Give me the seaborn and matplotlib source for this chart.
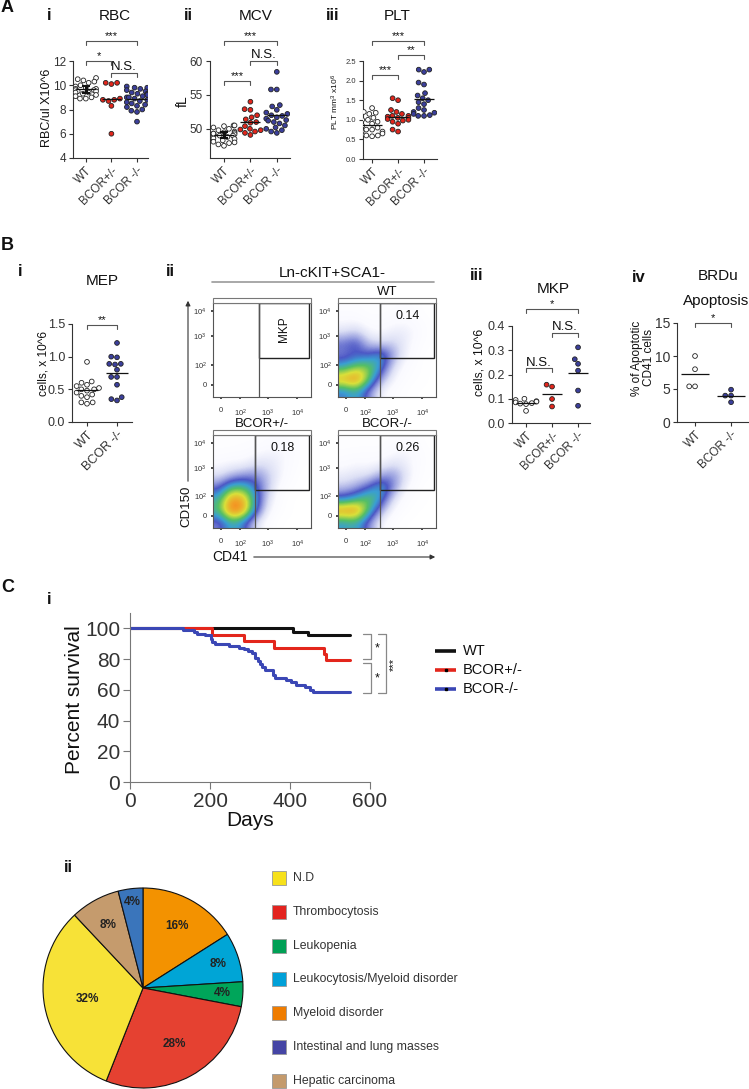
import warnings
warnings.filterwarnings('ignore')
import numpy as np
import pandas as pd
import matplotlib
matplotlib.use('Agg')
import matplotlib.pyplot as plt
import seaborn as sns
from matplotlib.colors import LinearSegmentedColormap
from matplotlib.patches import Rectangle

# ---------------- data ----------------
groups3 = ['WT', 'BCOR+/-', 'BCOR -/-']
groups2 = ['WT', 'BCOR -/-']
group_colors = {'WT': '#ffffff', 'BCOR+/-': '#e3261c', 'BCOR -/-': '#3b3f9c'}

rbc_wt = [10.6, 10.5, 10.4, 10.3, 10.2, 10.0, 9.9, 9.8, 9.7, 9.7, 9.6, 9.6, 9.5, 9.5, 9.4, 9.4, 9.3, 9.2, 9.1, 9.0, 8.9, 8.9]
rbc_het = [10.2, 10.1, 10.2, 8.9, 8.8, 8.8, 8.7, 8.3, 6.0]
rbc_ko = [9.9, 9.8, 9.8, 9.7, 9.6, 9.5, 9.4, 9.3, 9.3, 9.2, 9.1, 9.0, 9.0, 8.9, 8.8, 8.7, 8.6, 8.5, 8.4, 8.3, 8.2, 8.0, 7.9, 7.8, 7.0]

mcv_wt = [50.5, 50.5, 50.4, 50.2, 50.0, 49.8, 49.6, 49.5, 49.4, 49.3, 49.2, 49.1, 49.0, 49.0, 48.8, 48.6, 48.5, 48.3, 48.1, 48.0, 47.9, 47.7, 47.5, 49.3]
mcv_het = [54.0, 52.9, 52.8, 52.0, 51.7, 51.4, 51.0, 50.9, 50.4, 50.0, 49.9, 49.8, 49.6, 49.4, 49.1]
mcv_ko = [58.4, 55.8, 55.8, 53.5, 53.3, 52.8, 52.4, 52.2, 52.0, 51.9, 51.7, 51.5, 51.3, 51.2, 51.0, 50.8, 50.5, 50.2, 50.0, 49.8, 49.6, 49.4]

plt_wt = [1.30, 1.20, 1.18, 1.15, 1.05, 1.00, 1.00, 0.95, 0.90, 0.85, 0.80, 0.75, 0.75, 0.70, 0.70, 0.65, 0.62, 0.60, 0.60, 0.58]
plt_het = [1.55, 1.50, 1.25, 1.20, 1.15, 1.10, 1.10, 1.08, 1.05, 1.05, 1.02, 1.00, 0.98, 0.95, 0.90, 0.75, 0.70]
plt_ko = [2.28, 2.28, 2.22, 1.95, 1.90, 1.68, 1.62, 1.55, 1.50, 1.45, 1.40, 1.30, 1.25, 1.20, 1.18, 1.15, 1.12, 1.10, 1.10]

mep_wt = [0.92, 0.62, 0.60, 0.57, 0.55, 0.52, 0.50, 0.50, 0.48, 0.45, 0.42, 0.40, 0.38, 0.30, 0.30, 0.28]
mep_ko = [1.21, 1.00, 0.99, 0.89, 0.89, 0.88, 0.80, 0.69, 0.69, 0.57, 0.38, 0.35, 0.33]

mkp_wt = [0.100, 0.095, 0.090, 0.088, 0.085, 0.082, 0.080, 0.078, 0.050]
mkp_het = [0.158, 0.150, 0.099, 0.068]
mkp_ko = [0.312, 0.263, 0.244, 0.216, 0.134, 0.071]

brdu_wt = [10.0, 8.0, 5.4, 5.4]
brdu_ko = [4.9, 4.0, 4.0, 3.0]

# flow cytometry density (rows: high CD150 -> low, cols: low CD41 -> high)
flow_wt = [
    [0.04, 0.04, 0.02, 0.02, 0.03, 0.04, 0.03, 0.00],
    [0.08, 0.08, 0.05, 0.05, 0.07, 0.08, 0.05, 0.02],
    [0.15, 0.20, 0.10, 0.08, 0.12, 0.12, 0.08, 0.02],
    [0.34, 0.40, 0.20, 0.18, 0.20, 0.12, 0.05, 0.02],
    [0.30, 0.35, 0.38, 0.50, 0.26, 0.10, 0.04, 0.00],
    [0.50, 0.64, 0.64, 0.44, 0.15, 0.06, 0.03, 0.00],
    [0.84, 0.93, 0.60, 0.25, 0.10, 0.04, 0.02, 0.00],
    [0.40, 0.50, 0.30, 0.10, 0.05, 0.02, 0.00, 0.00],
]
flow_het = [
    [0.02, 0.02, 0.03, 0.03, 0.05, 0.05, 0.05, 0.02],
    [0.04, 0.05, 0.05, 0.08, 0.10, 0.10, 0.06, 0.02],
    [0.08, 0.10, 0.10, 0.15, 0.15, 0.10, 0.05, 0.02],
    [0.15, 0.22, 0.28, 0.30, 0.20, 0.10, 0.04, 0.00],
    [0.32, 0.55, 0.55, 0.40, 0.20, 0.06, 0.02, 0.00],
    [0.50, 0.88, 0.82, 0.45, 0.15, 0.04, 0.00, 0.00],
    [0.55, 0.96, 0.86, 0.40, 0.10, 0.03, 0.00, 0.00],
    [0.30, 0.50, 0.40, 0.15, 0.05, 0.00, 0.00, 0.00],
]
flow_ko = [
    [0.02, 0.02, 0.02, 0.02, 0.04, 0.05, 0.04, 0.00],
    [0.04, 0.05, 0.05, 0.05, 0.08, 0.10, 0.06, 0.02],
    [0.07, 0.09, 0.08, 0.10, 0.15, 0.12, 0.06, 0.02],
    [0.12, 0.15, 0.15, 0.25, 0.30, 0.15, 0.05, 0.02],
    [0.20, 0.25, 0.36, 0.52, 0.30, 0.10, 0.03, 0.00],
    [0.40, 0.50, 0.62, 0.45, 0.15, 0.05, 0.02, 0.00],
    [0.90, 0.92, 0.55, 0.25, 0.08, 0.03, 0.00, 0.00],
    [0.45, 0.50, 0.30, 0.10, 0.03, 0.00, 0.00, 0.00],
]
flow_tick_labels = ['0', '$10^2$', '$10^3$', '$10^4$']
flow_pct = ['0.14', '0.18', '0.26']

surv_groups = ['WT', 'BCOR+/-', 'BCOR-/-']
surv_colors = ['#111111', '#e3261c', '#3b47b5']
wt_days = [0, 408, 444, 550]
wt_surv = [100, 97.8, 95.5, 95.5]
het_days = [0, 204, 286, 361, 485, 490, 550]
het_surv = [100, 95.8, 91.7, 87.5, 83.3, 79.2, 79.2]
ko_days = [0, 132, 160, 168, 188, 202, 206, 212, 248, 272, 285, 296, 305, 313, 319, 325, 330, 338, 357,
           362, 390, 402, 414, 438, 450, 458, 550]
ko_surv = [100, 98.9, 97.7, 96.5, 95.4, 93.0, 91.0, 89.6, 88.5, 87.4, 86.3, 85.2, 84.1, 81.0, 78.9, 76.8,
           74.7, 72.6, 69.5, 67.4, 66.3, 65.2, 63.2, 62.1, 60.0, 58.3, 58.3]

pie_labels = ['Myeloid disorder', 'Leukocytosis/Myeloid disorder', 'Leukopenia', 'Thrombocytosis',
              'N.D', 'Hepatic carcinoma', 'Intestinal and lung masses']
pie_pct = [16, 8, 4, 28, 32, 8, 4]
pie_colors = ['#f39200', '#00a5d6', '#00a55a', '#e54131', '#f7e237', '#c59b6d', '#3a75bb']
legend_labels = ['N.D', 'Thrombocytosis', 'Leukopenia', 'Leukocytosis/Myeloid disorder',
                 'Myeloid disorder', 'Intestinal and lung masses', 'Hepatic carcinoma']
legend_colors = ['#f7e11a', '#e3231f', '#00a055', '#00a0d8', '#ef7c00', '#4545a5', '#c49a6c']

# ---------------- style ----------------
sns.set_theme(style='ticks')
plt.rcParams['font.family'] = ['Liberation Sans', 'DejaVu Sans']
plt.rcParams['mathtext.fontset'] = 'custom'
plt.rcParams['mathtext.rm'] = 'Liberation Sans'
plt.rcParams['mathtext.it'] = 'Liberation Sans:italic'
plt.rcParams['mathtext.bf'] = 'Liberation Sans:bold'
plt.rcParams['axes.edgecolor'] = '#333333'
plt.rcParams['axes.linewidth'] = 0.8
plt.rcParams['xtick.color'] = '#333333'
plt.rcParams['ytick.color'] = '#333333'
plt.rcParams['text.color'] = '#111111'

W, H = 749, 1089
fig = plt.figure(figsize=(W / 100, H / 100), dpi=100)
fig.patch.set_facecolor('white')

ov = fig.add_axes([0, 0, 1, 1], zorder=10)
ov.set_xlim(0, W)
ov.set_ylim(H, 0)
ov.axis('off')
ov.patch.set_alpha(0)


def add_ax(l, t, r, b):
    return fig.add_axes([l / W, 1 - b / H, (r - l) / W, (b - t) / H])


def disp_x(ax, xv):
    return ax.transData.transform((xv, 0))[0]


def bracket(ax, i, j, y, label, fs=8, tick=4, color='#555555'):
    x1, x2 = disp_x(ax, i), disp_x(ax, j)
    ov.plot([x1, x1, x2, x2], [y + tick, y, y, y + tick], color=color, lw=0.8)
    ov.text((x1 + x2) / 2, y + 0.5, label, ha='center', va='bottom', fontsize=fs)


def dot_panel(box, cats, values, ylim, yticks, fmt, tick_fs, xlim, xfs=8.5, size=3.4, wt_err=False):
    ax = add_ax(*box)
    df = pd.DataFrame({'group': np.repeat(cats, [len(v) for v in values]),
                       'value': np.concatenate(values)})
    sns.swarmplot(data=df, x='group', y='value', hue='group', order=cats, hue_order=cats,
                  palette={c: group_colors[c] for c in cats}, size=size, edgecolor='#222222',
                  linewidth=0.6, legend=False, ax=ax, zorder=3)
    for i, v in enumerate(values):
        ax.hlines(np.mean(v), i - 0.38, i + 0.38, color='#111111', lw=0.9, zorder=6)
    if wt_err:
        v = np.array(values[0])
        ax.errorbar(0, v.mean(), yerr=v.std() / np.sqrt(len(v)) * 2.5, color='#111111', lw=2.2,
                    capsize=3, capthick=1.5, zorder=7)
    ax.set_xlim(*xlim)
    ax.set_ylim(*ylim)
    ax.set_yticks(yticks)
    ax.set_yticklabels([fmt.format(t) for t in yticks], fontsize=tick_fs)
    ax.set_xticks(range(len(cats)))
    ax.set_xticklabels(cats, rotation=45, ha='right', rotation_mode='anchor', fontsize=xfs)
    ax.tick_params(length=3, width=0.8, pad=2)
    ax.set_xlabel('')
    ax.set_ylabel('')
    sns.despine(ax=ax)
    return ax


# ---------------- Panel A ----------------
ax_rbc = dot_panel((73, 61, 148, 158), groups3, [rbc_wt, rbc_het, rbc_ko], (4, 12), [4, 6, 8, 10, 12],
                   '{:g}', 8.5, (-0.5, 2.43), wt_err=True)
ax_mcv = dot_panel((210, 61, 290, 158), groups3, [mcv_wt, mcv_het, mcv_ko], (45.7, 60), [50, 55, 60],
                   '{:g}', 8.5, (-0.53, 2.5), wt_err=True)
ax_plt = dot_panel((363, 61, 437, 159), groups3, [plt_wt, plt_het, plt_ko], (0, 2.5),
                   [0, 0.5, 1.0, 1.5, 2.0, 2.5], '{:.1f}', 5.5, (-0.35, 2.5))

bracket(ax_rbc, 0, 2, 41, '***')
bracket(ax_rbc, 0, 1, 61, '*')
bracket(ax_rbc, 1, 2, 73, 'N.S.', fs=9.5)
bracket(ax_mcv, 0, 2, 41, '***')
bracket(ax_mcv, 1, 2, 61, 'N.S.', fs=9.5)
bracket(ax_mcv, 0, 1, 81, '***')
bracket(ax_plt, 0, 2, 41, '***')
bracket(ax_plt, 1, 2, 55, '**')
bracket(ax_plt, 0, 1, 75, '***')

ov.text(47, 108, 'RBC/ul X10^6', rotation=90, ha='center', va='center', fontsize=9)
ov.text(183, 101, 'fL', rotation=90, ha='center', va='center', fontsize=10)
ov.text(335, 102, 'PLT mm$^3$ x10$^6$', rotation=90, ha='center', va='center', fontsize=6)

# ---------------- Panel B i / iii / iv ----------------
ax_mep = dot_panel((72, 324, 132, 422), groups2, [mep_wt, mep_ko], (0, 1.5), [0, 0.5, 1.0, 1.5],
                   '{:.1f}', 9, (-0.5, 1.5), xfs=9)
bracket(ax_mep, 0, 1, 325, '**')
ov.text(43, 364, 'cells, x 10^6', rotation=90, ha='center', va='center', fontsize=8.6)

ax_mkp = dot_panel((512, 326, 590, 423), groups3, [mkp_wt, mkp_het, mkp_ko], (0, 0.4),
                   [0, 0.1, 0.2, 0.3, 0.4], '{:.1f}', 9, (-0.54, 2.46), xfs=8.5)
bracket(ax_mkp, 0, 2, 309, '*')
bracket(ax_mkp, 1, 2, 333, 'N.S.', fs=9.5)
bracket(ax_mkp, 0, 1, 368, 'N.S.', fs=9.5)
ov.text(479, 362, 'cells, x 10^6', rotation=90, ha='center', va='center', fontsize=8.8)

ax_brdu = dot_panel((677, 323, 748, 422), groups2, [brdu_wt, brdu_ko], (0, 15), [0, 5, 10, 15],
                    '{:g}', 10, (-0.5, 1.47), xfs=8.5)
bracket(ax_brdu, 0, 1, 323, '*')
ov.text(643, 358, '% of Apoptotic\nCD41 cells', rotation=90, ha='center', va='center',
        fontsize=8.5, multialignment='center', linespacing=1.05)

# ---------------- Panel B ii (flow) ----------------
flow_cmap = LinearSegmentedColormap.from_list('flow', [
    (0.0, '#ffffff'), (0.08, '#fafaff'), (0.16, '#dcdff5'), (0.26, '#9aa1e0'), (0.36, '#4d58c6'),
    (0.46, '#3a9fd2'), (0.57, '#55bf65'), (0.70, '#d9e03a'), (0.85, '#f39a25'), (1.0, '#e3341f')])

flow_xt = [0.08, 0.28, 0.56, 0.86]
flow_yt = [0.13, 0.34, 0.645, 0.91]


def flow_panel(l, t, r, b, grid, gate_x, title=None, pct=None, mkp=False):
    ov.add_patch(Rectangle((l, t), r - l, 5, facecolor='white', edgecolor='#777777', lw=0.8))
    ax = add_ax(l, t + 5, r, b)
    if grid is not None:
        ax.imshow(np.array(grid), extent=(0, 1, 0, 1), origin='upper', aspect='auto',
                  interpolation='bicubic', cmap=flow_cmap, vmin=0, vmax=1)
    ax.set_xlim(0, 1)
    ax.set_ylim(0, 1)
    for s in ax.spines.values():
        s.set_color('#555555')
        s.set_linewidth(0.8)
    ax.plot([gate_x, gate_x], [0, 1], color='#555555', lw=0.9)
    ax.add_patch(Rectangle((gate_x, 0.41), 0.975 - gate_x, 0.585, fill=False,
                           edgecolor='#222222', lw=1.0))
    ax.set_xticks(flow_xt)
    ax.set_xticklabels(flow_tick_labels, fontsize=5.5)
    ax.set_yticks(flow_yt)
    ax.set_yticklabels(flow_tick_labels, fontsize=5.5)
    ax.tick_params(axis='x', length=1.5, pad=6)
    ax.tick_params(axis='y', length=1.5, pad=3)
    if title:
        ov.text((l + r) / 2, t - 6, title, ha='center', va='center', fontsize=9.5)
    if pct:
        ax.text(0.71, 0.86, pct, ha='center', va='center', fontsize=9)
    if mkp:
        ax.text(0.72, 0.72, 'MKP', rotation=90, ha='center', va='center', fontsize=8.5)
    return ax


flow_panel(213, 298, 311, 397, None, 0.47, mkp=True)
flow_panel(338, 298, 436, 397, flow_wt, 0.43, title='WT', pct=flow_pct[0])
flow_panel(213, 430, 311, 528, flow_het, 0.43, title='BCOR+/-', pct=flow_pct[1])
flow_panel(338, 430, 436, 528, flow_ko, 0.43, title='BCOR-/-', pct=flow_pct[2])

ov.text(332, 273, 'Ln-cKIT+SCA1-', ha='center', va='center', fontsize=11)
ov.plot([212, 434], [282, 282], color='#999999', lw=1.2)
ov.annotate('', xy=(188, 298), xytext=(188, 484),
            arrowprops=dict(arrowstyle='-|>', color='#333333', lw=0.8, mutation_scale=7))
ov.text(186, 506, 'CD150', rotation=90, ha='center', va='center', fontsize=9.5)
ov.annotate('', xy=(438, 557), xytext=(251, 557),
            arrowprops=dict(arrowstyle='-|>', color='#333333', lw=0.8, mutation_scale=7))
ov.text(230, 557, 'CD41', ha='center', va='center', fontsize=10)

# ---------------- Panel C i (survival) ----------------
ax_s = add_ax(130, 613, 370, 782)
surv_df = pd.concat([
    pd.DataFrame({'Days': wt_days, 'Survival': wt_surv, 'Group': surv_groups[0]}),
    pd.DataFrame({'Days': het_days, 'Survival': het_surv, 'Group': surv_groups[1]}),
    pd.DataFrame({'Days': ko_days, 'Survival': ko_surv, 'Group': surv_groups[2]}),
])
sns.lineplot(data=surv_df, x='Days', y='Survival', hue='Group', hue_order=surv_groups,
             palette=dict(zip(surv_groups, surv_colors)), estimator=None, sort=False,
             drawstyle='steps-post', lw=2.2, legend=False, ax=ax_s)
ax_s.set_xlim(0, 600)
ax_s.set_ylim(0, 110)
ax_s.set_xticks([0, 200, 400, 600])
ax_s.set_yticks([0, 20, 40, 60, 80, 100])
ax_s.tick_params(labelsize=15, length=5, width=0.8, pad=2, color='#777777')
for s in ax_s.spines.values():
    s.set_color('#777777')
ax_s.set_xlabel('')
ax_s.set_ylabel('')
sns.despine(ax=ax_s)
ov.text(75, 700, 'Percent survival', rotation=90, ha='center', va='center', fontsize=15)
ov.text(250, 820, 'Days', ha='center', va='center', fontsize=15)

# survival significance brackets
for (y1, y2, xx, lab, ty) in [(634, 659, 371, '*', 648), (663, 693, 371, '*', 678)]:
    ov.plot([363, xx, xx, 363], [y1, y1, y2, y2], color='#888888', lw=0.9)
    ov.text(377, ty, lab, ha='center', va='center', fontsize=9)
ov.plot([378, 386, 386, 378], [634, 634, 693, 693], color='#888888', lw=0.9)
ov.text(394, 664, '***', rotation=90, ha='center', va='center', fontsize=8)

for k, (g, c) in enumerate(zip(surv_groups, surv_colors)):
    yy = 651 + 19 * k
    ov.plot([435, 456], [yy, yy], color=c, lw=2.6, solid_capstyle='butt')
    if k > 0:
        ov.plot([445.5], [yy], marker='s', ms=1.6, color='black')
    ov.text(463, yy, g, ha='left', va='center', fontsize=10.5)

# ---------------- Panel C ii (pie) ----------------
ax_p = add_ax(42, 887, 244, 1089)
wedges, _ = ax_p.pie(pie_pct, colors=pie_colors, startangle=90, counterclock=False,
                     wedgeprops=dict(edgecolor='#111111', linewidth=0.8))
for w in wedges:
    w.set_clip_on(False)
ax_p.set_xlim(-1.01, 1.01)
ax_p.set_ylim(-1.01, 1.01)
label_dist = [0.71, 0.79, 0.79, 0.64, 0.57, 0.72, 0.87]
for w, p, d in zip(wedges, pie_pct, label_dist):
    ang = np.deg2rad((w.theta1 + w.theta2) / 2)
    ax_p.text(d * np.cos(ang), d * np.sin(ang), f'{p}%', ha='center', va='center',
              fontsize=8.5, fontweight='bold', color='#222222')

for k, (lab, c) in enumerate(zip(legend_labels, legend_colors)):
    yy = 878 + 33.8 * k
    ov.add_patch(Rectangle((272, yy - 7), 14, 14, facecolor=c, edgecolor='#999999', lw=0.6))
    ov.text(293, yy, lab, ha='left', va='center', fontsize=8.8, color='#333333')

# ---------------- panel letters / numerals / titles ----------------
for txt, x, y in [('A', 1, 8), ('B', 1, 246), ('C', 1, 588)]:
    ov.text(x, y, txt, ha='left', va='center', fontsize=13, fontweight='bold')
for txt, x, y in [('i', 49, 15), ('ii', 188, 15), ('iii', 333, 15),
                  ('i', 20, 271), ('ii', 170, 271), ('iii', 477, 275), ('iv', 639, 277),
                  ('i', 49, 600), ('ii', 68, 867)]:
    ov.text(x, y, txt, ha='center', va='center', fontsize=12, fontweight='bold')
for txt, x, y in [('RBC', 115, 16), ('MCV', 256, 16), ('PLT', 397, 16), ('MEP', 102, 281),
                  ('MKP', 553, 289), ('BRDu', 718, 276), ('Apoptosis', 716, 301)]:
    ov.text(x, y, txt, ha='center', va='center', fontsize=11)

fig.savefig('out.png', dpi=100, facecolor='white')
